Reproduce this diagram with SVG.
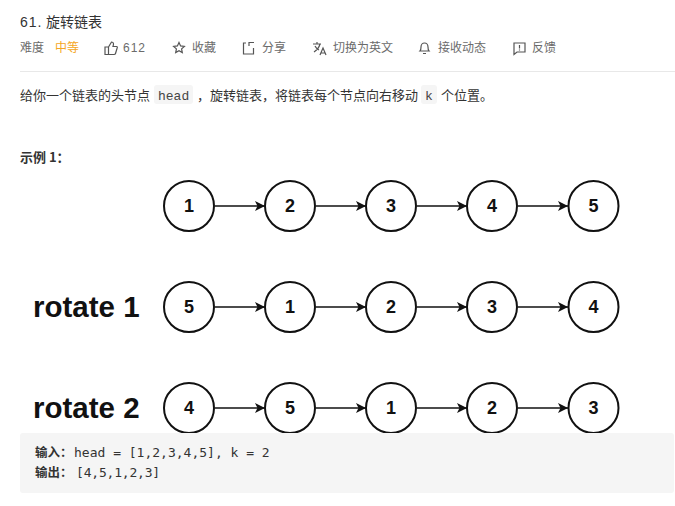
<svg xmlns="http://www.w3.org/2000/svg" width="675" height="506" viewBox="0 0 675 506">
<style>
text{font-family:"Liberation Sans","Noto Sans CJK SC",sans-serif}
.cjk{font-family:"Noto Sans CJK SC","Liberation Sans",sans-serif}
.meta{font-size:12px;fill:#6b6b6b}
.body{font-size:13px;fill:#333}
.code{font-family:"Liberation Mono","Noto Sans CJK SC",monospace;font-size:13px;fill:#444}
.mono{font-family:"DejaVu Sans Mono","Noto Sans CJK SC",monospace;font-size:13px;fill:#333}
.n circle{fill:#fff;stroke:#111;stroke-width:2}
.n text{font-size:18px;font-weight:bold;fill:#111;text-anchor:middle}
.c line{stroke:#111;stroke-width:1.5;marker-end:url(#a)}
.r{font-size:29.500px;font-weight:bold;fill:#111}
.i{fill:none;stroke:#555;stroke-width:1.2}
</style>
<defs><marker id="a" markerUnits="userSpaceOnUse" markerWidth="11" markerHeight="10" refX="10" refY="5" orient="auto"><path d="M0 0L10 5L0 10L2.500 5Z" fill="#111"/></marker></defs>
<rect width="675" height="506" fill="#fff"/>
<text x="20" y="26.500" font-size="14" fill="#333"><tspan letter-spacing="1">61.</tspan></text>
<text x="46" y="26.500" font-size="14" fill="#333" class="cjk">旋转链表</text>
<text x="20" y="52" class="meta cjk">难度</text>
<text x="55" y="52" font-size="12" fill="#f5a623" class="cjk">中等</text>
<path class="i" d="M105 47h3.500v7.500h-3.500zM108.500 47l3-5c2 0 2.500 1.500 1.500 4.500h3.500c1 0 1 1 .5 2l-1.500 5c-.2.700-.7 1-1.500 1h-5.500"/>
<text x="123" y="52" class="meta" letter-spacing="1">612</text>
<path class="i" d="M179 42.500l1.600 3.400 3.800.5-2.800 2.500.7 3.700-3.300-1.900-3.300 1.900.7-3.700-2.800-2.500 3.800-.5z"/>
<text x="192" y="52" class="meta cjk">收藏</text>
<path class="i" d="M246 43h-2.500v11h10v-6M249 46v-3.500h5"/>
<text x="262" y="52" class="meta cjk">分享</text>
<path class="i" d="M313 44h8M317 42v2M320 44c-1 4-3 6-6 8M315 46c1 2 2 3 4 4M320 55l3-7 3 7M321 53h4"/>
<text x="333" y="52" class="meta cjk">切换为英文</text>
<path class="i" d="M420 51c1-1 1-2 1-4 0-2 1.500-4 3.500-4s3.500 2 3.500 4c0 2 0 3 1 4zM423 53.500h3"/>
<text x="438" y="52" class="meta cjk">接收动态</text>
<path class="i" d="M514 43h11v9h-8l-3 2.500zM519.500 45v3.500M519.500 49.500v1"/>
<text x="532" y="52" class="meta cjk">反馈</text>
<line x1="20" y1="71.500" x2="675" y2="71.500" stroke="#e8e8e8"/>
<text x="20" y="99.500" class="body cjk">给你一个链表的头节点</text>
<rect x="154" y="85" width="39" height="19" rx="3" fill="#f5f5f5"/>
<text x="158" y="100" class="code">head</text>
<text x="197" y="99.500" class="body cjk">，</text>
<text x="210" y="99.500" class="body cjk">旋转链表，将链表每个节点向右移动</text>
<rect x="421" y="85" width="16" height="19" rx="3" fill="#f5f5f5"/>
<text x="425" y="100" class="code">k</text>
<text x="441" y="99.500" class="body cjk">个位置。</text>
<text x="20" y="162" font-size="13" font-weight="bold" fill="#333" class="cjk">示例 1：</text>
<text x="33" y="317" class="r">rotate 1</text>
<text x="33" y="418" class="r">rotate 2</text>
<g class="c">
<line x1="215" y1="206" x2="265" y2="206"/><line x1="316" y1="206" x2="366" y2="206"/><line x1="417" y1="206" x2="467" y2="206"/><line x1="518" y1="206" x2="568" y2="206"/>
<line x1="215" y1="307" x2="265" y2="307"/><line x1="316" y1="307" x2="366" y2="307"/><line x1="417" y1="307" x2="467" y2="307"/><line x1="518" y1="307" x2="568" y2="307"/>
<line x1="215" y1="408" x2="265" y2="408"/><line x1="316" y1="408" x2="366" y2="408"/><line x1="417" y1="408" x2="467" y2="408"/><line x1="518" y1="408" x2="568" y2="408"/>
</g>
<g id="n1-1" class="n"><circle cx="189" cy="206" r="25"/><text x="189" y="212">1</text></g>
<g id="n1-2" class="n"><circle cx="290" cy="206" r="25"/><text x="290" y="212">2</text></g>
<g id="n1-3" class="n"><circle cx="391" cy="206" r="25"/><text x="391" y="212">3</text></g>
<g id="n1-4" class="n"><circle cx="492" cy="206" r="25"/><text x="492" y="212">4</text></g>
<g id="n1-5" class="n"><circle cx="593.500" cy="206" r="25"/><text x="593.500" y="212">5</text></g>
<g id="n2-1" class="n"><circle cx="189" cy="307" r="25"/><text x="189" y="313">5</text></g>
<g id="n2-2" class="n"><circle cx="290" cy="307" r="25"/><text x="290" y="313">1</text></g>
<g id="n2-3" class="n"><circle cx="391" cy="307" r="25"/><text x="391" y="313">2</text></g>
<g id="n2-4" class="n"><circle cx="492" cy="307" r="25"/><text x="492" y="313">3</text></g>
<g id="n2-5" class="n"><circle cx="593.500" cy="307" r="25"/><text x="593.500" y="313">4</text></g>
<g id="n3-1" class="n"><circle cx="189" cy="408" r="25"/><text x="189" y="414">4</text></g>
<g id="n3-2" class="n"><circle cx="290" cy="408" r="25"/><text x="290" y="414">5</text></g>
<g id="n3-3" class="n"><circle cx="391" cy="408" r="25"/><text x="391" y="414">1</text></g>
<g id="n3-4" class="n"><circle cx="492" cy="408" r="25"/><text x="492" y="414">2</text></g>
<g id="n3-5" class="n"><circle cx="593.500" cy="408" r="25"/><text x="593.500" y="414">3</text></g>
<rect x="20" y="433" width="654" height="60" rx="3" fill="#f5f5f5"/>
<text x="35" y="457" font-size="12.500" font-weight="bold" fill="#333" class="cjk">输入：</text>
<text x="74" y="457" class="mono">head = [1,2,3,4,5], k = 2</text>
<text x="35" y="477" font-size="12.500" font-weight="bold" fill="#333" class="cjk">输出：</text>
<text x="76" y="477" class="mono" letter-spacing="-.2">[4,5,1,2,3]</text>
</svg>
